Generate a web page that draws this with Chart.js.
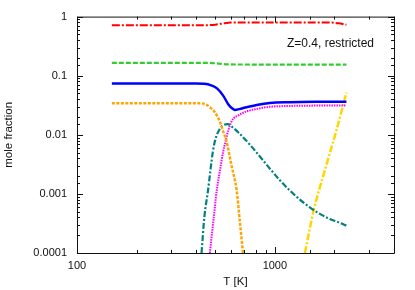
<!DOCTYPE html>
<html>
<head>
<meta charset="utf-8">
<script src="https://cdn.jsdelivr.net/npm/chart.js@4/dist/chart.umd.min.js"></script>
<style>
  html, body { margin: 0; padding: 0; background: #fff; }
  #c { display: block; }
</style>
</head>
<body>
<canvas id="c" width="415" height="290"></canvas>
<script>
// ---- data (temperature in K, mole fractions) ----
const xTicksMajor = [100, 1000];
const yTicksMajor = [0.0001, 0.001, 0.01, 0.1, 1];
const annotationText = "Z=0.4, restricted";
const xTitle = "T [K]";
const yTitle = "mole fraction";

const redT   = [150, 450, 500, 560, 600, 1900, 2100, 2300];
const redX   = [0.716, 0.716, 0.73, 0.775, 0.794, 0.794, 0.77, 0.727];

const greenT = [150, 460, 520, 580, 2300];
const greenX = [0.165, 0.165, 0.160, 0.155, 0.154];

const blueT  = [150, 400, 440, 480, 510, 548, 581, 610, 628, 660, 719, 809, 944, 1190, 1600, 2300];
const blueX  = [0.0736, 0.0736, 0.073, 0.068, 0.061, 0.046, 0.033, 0.0278, 0.0264, 0.0272, 0.0293, 0.032, 0.0346, 0.0356, 0.0362, 0.0364];

const orangeT = [150, 420, 450, 469, 497, 528, 550, 570, 604, 641, 664, 690];
const orangeX = [0.0341, 0.0341, 0.0325, 0.0293, 0.0242, 0.0165, 0.011, 0.0077, 0.0030, 0.00115, 0.00036, 0.0001];

const tealT  = [426, 440, 459, 486, 502, 528, 548, 577, 617, 665, 748, 840, 944, 1060, 1191, 1338, 1502, 1688, 1896, 2130, 2300];
const tealX  = [0.0001, 0.0004, 0.00112, 0.0052, 0.0087, 0.0127, 0.0145, 0.0151, 0.0131, 0.0104, 0.0068, 0.0043, 0.00267, 0.0017, 0.00114, 0.0008, 0.00059, 0.00046, 0.000377, 0.000324, 0.00029];

const magentaT = [469, 490, 508, 530, 548, 565, 581, 600, 617, 653, 719, 809, 944, 1200, 1600, 2300];
const magentaX = [0.0001, 0.00037, 0.00112, 0.0027, 0.0052, 0.008, 0.0118, 0.016, 0.0188, 0.0213, 0.0249, 0.0274, 0.0298, 0.0308, 0.0312, 0.0314];

const goldT  = [1418, 1574, 1800, 2050, 2300];
const goldX  = [0.0001, 0.00054, 0.0027, 0.0121, 0.052];

function pts(t, v) { return t.map((tt, i) => ({ x: tt, y: v[i] })); }

const FONT = "'Liberation Sans', Arial, Helvetica, sans-serif";
const AX = '#111';

function isMajor(v) {
  const l = Math.log10(v);
  return Math.abs(l - Math.round(l)) < 1e-6;
}
function fmt(v) {
  const e = Math.round(Math.log10(v));
  return e >= 0 ? String(Math.pow(10, e)) : Math.pow(10, e).toFixed(-e);
}

const framePlugin = {
  id: 'frame',
  afterDatasetsDraw(chart) {
    const { ctx, chartArea: a, scales } = chart;
    const xs = scales.x, ys = scales.y;
    ctx.save();
    ctx.strokeStyle = AX;
    ctx.lineWidth = 1;
    ctx.beginPath();
    ctx.rect(a.left + 0.5, a.top + 0.5, a.right - a.left, a.bottom - a.top);
    ctx.stroke();
    ctx.beginPath();
    xs.ticks.forEach(t => {
      const px = Math.round(xs.getPixelForValue(t.value)) + 0.5;
      const len = isMajor(t.value) ? 6 : 3;
      ctx.moveTo(px, a.bottom); ctx.lineTo(px, a.bottom - len);
      ctx.moveTo(px, a.top); ctx.lineTo(px, a.top + len);
    });
    ys.ticks.forEach(t => {
      const py = Math.round(ys.getPixelForValue(t.value)) + 0.5;
      const len = isMajor(t.value) ? 6 : 3;
      ctx.moveTo(a.left, py); ctx.lineTo(a.left + len, py);
      ctx.moveTo(a.right, py); ctx.lineTo(a.right - len, py);
    });
    ctx.stroke();
    ctx.fillStyle = '#111';
    ctx.font = "12px " + FONT;
    ctx.textAlign = 'right';
    ctx.textBaseline = 'middle';
    ctx.fillText(annotationText, a.right - 20, a.top + 27);
    ctx.restore();
  }
};

function ds(t, v, color, width, dash) {
  return {
    data: pts(t, v),
    borderColor: color,
    borderWidth: width,
    borderDash: dash,
    pointRadius: 0,
    fill: false,
    cubicInterpolationMode: 'monotone'
  };
}

new Chart(document.getElementById('c'), {
  type: 'line',
  data: {
    datasets: [
      ds(redT, redX, '#ff0000', 2, [8, 2, 2, 2]),
      ds(greenT, greenX, '#33cc33', 2.2, [5, 2]),
      ds(blueT, blueX, '#0000ff', 2.5, []),
      ds(orangeT, orangeX, '#ffa500', 2.5, [3, 1.5]),
      ds(tealT, tealX, '#008080', 2.2, [6, 2, 2, 2]),
      ds(magentaT, magentaX, '#ff00ff', 2, [1.5, 1]),
      ds(goldT, goldX, '#ffd700', 2.5, [7, 2, 2, 2])
    ]
  },
  options: {
    responsive: false,
    animation: false,
    devicePixelRatio: 1,
    layout: { padding: { left: 0, top: 13, right: 21, bottom: 0 } },
    plugins: { legend: { display: false }, tooltip: { enabled: false } },
    scales: {
      x: {
        type: 'logarithmic',
        min: 100, max: 4000,
        afterFit(s) { s.height = 37; },
        grid: { display: false, drawTicks: false },
        border: { display: false },
        ticks: {
          autoSkip: false, maxRotation: 0, padding: 6,
          color: '#111', font: { family: FONT, size: 11 },
          callback(v) { return xTicksMajor.some(m => Math.abs(m - v) < 1e-9) ? String(v) : ''; }
        },
        title: { display: true, text: xTitle, color: '#111', font: { family: FONT, size: 11.5 }, padding: { top: 0, bottom: 1 } }
      },
      y: {
        type: 'logarithmic',
        min: 0.0001, max: 1,
        afterFit(s) { s.width = 77; },
        grid: { display: false, drawTicks: false },
        border: { display: false },
        ticks: {
          autoSkip: false, padding: 10,
          color: '#111', font: { family: FONT, size: 11 },
          callback(v) { return yTicksMajor.some(m => Math.abs(Math.log10(m) - Math.log10(v)) < 1e-6) ? fmt(v) : ''; }
        },
        title: { display: true, text: yTitle, color: '#111', font: { family: FONT, size: 11.5 }, padding: { top: 2, bottom: 0 } }
      }
    }
  },
  plugins: [framePlugin]
});
</script>
</body>
</html>
